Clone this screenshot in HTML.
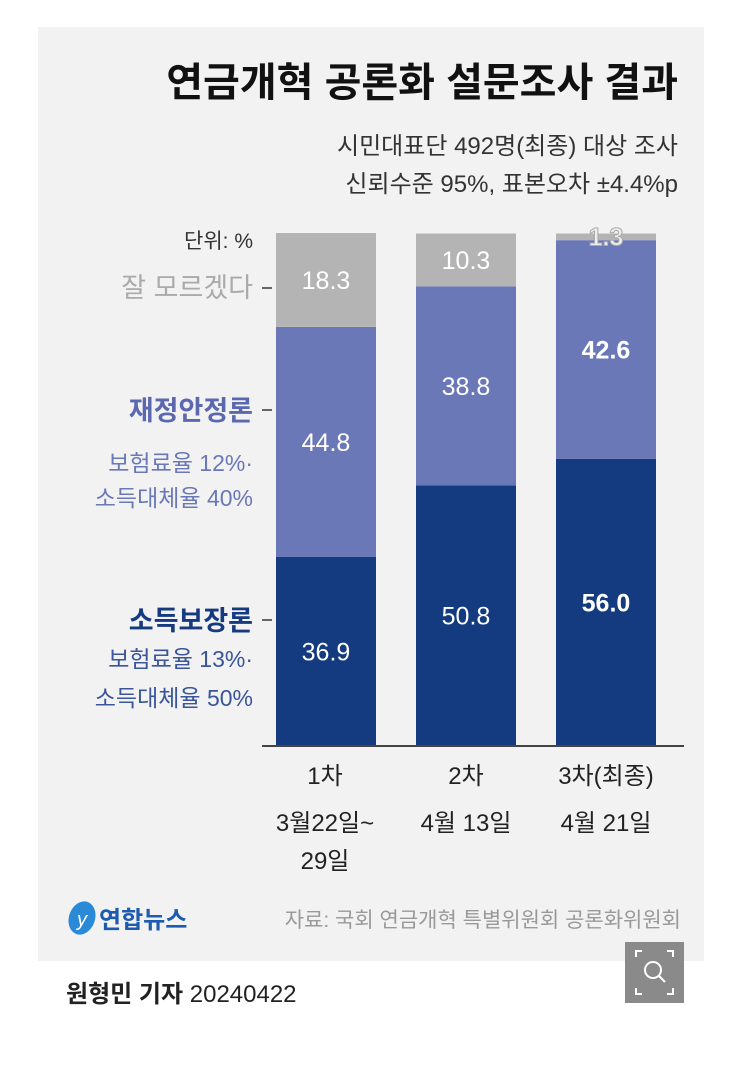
<!DOCTYPE html>
<html><head><meta charset="utf-8"><style>
body{margin:0;width:743px;height:1067px;background:#fff;font-family:"Liberation Sans","Noto Sans CJK KR",sans-serif;overflow:hidden}
</style></head><body>
<svg width="743" height="1067" style="font-family:'Liberation Sans','Noto Sans CJK KR',sans-serif">
<rect x="38" y="27" width="666" height="934" fill="#f2f2f2"/>
<text x="678" y="96" text-anchor="end" font-size="40" font-weight="bold" fill="#111">연금개혁 공론화 설문조사 결과</text>
<text x="678" y="154" text-anchor="end" font-size="24" fill="#333">시민대표단 492명(최종) 대상 조사</text>
<text x="678" y="192" text-anchor="end" font-size="24" fill="#333">신뢰수준 95%, 표본오차 ±4.4%p</text>
<text x="253" y="248" text-anchor="end" font-size="21" fill="#333">단위: %</text>
<g id="bars"></g>
<line x1="262" y1="746" x2="684" y2="746" stroke="#444" stroke-width="2"/>
<g>
<line x1="262" y1="288" x2="272" y2="288" stroke="#666" stroke-width="2"/>
<text x="253" y="297" text-anchor="end" font-size="27" fill="#aaa">잘 모르겠다</text>
<line x1="262" y1="410" x2="272" y2="410" stroke="#666" stroke-width="2"/>
<text x="253" y="420" text-anchor="end" font-size="27" font-weight="bold" fill="#5b68b0">재정안정론</text>
<text x="253" y="471" text-anchor="end" font-size="23" fill="#6b78b8">보험료율 12%·</text>
<text x="253" y="506" text-anchor="end" font-size="23" fill="#6b78b8">소득대체율 40%</text>
<line x1="262" y1="620" x2="272" y2="620" stroke="#666" stroke-width="2"/>
<text x="253" y="630" text-anchor="end" font-size="27" font-weight="bold" fill="#163a80">소득보장론</text>
<text x="253" y="667" text-anchor="end" font-size="23" fill="#3a5599">보험료율 13%·</text>
<text x="253" y="706" text-anchor="end" font-size="23" fill="#3a5599">소득대체율 50%</text>
</g>
<g font-size="24" fill="#222" text-anchor="middle">
<text x="325" y="784">1차</text><text x="325" y="831">3월22일~</text><text x="325" y="869">29일</text>
<text x="466" y="784">2차</text><text x="466" y="831">4월 13일</text>
<text x="606" y="784">3차(최종)</text><text x="606" y="831">4월 21일</text>
</g>
<g>
<ellipse cx="82" cy="918" rx="13" ry="17" fill="#2a8ad8" transform="rotate(20 82 918)"/>
<text x="82" y="926" text-anchor="middle" font-size="20" font-style="italic" fill="#fff">y</text>
<text x="99" y="928" font-size="24" font-weight="bold" fill="#1d5bb0">연합뉴스</text>
</g>
<text x="681" y="927" text-anchor="end" font-size="21" fill="#999">자료: 국회 연금개혁 특별위원회 공론화위원회</text>
<text x="66" y="1002" font-size="24" fill="#222"><tspan font-weight="bold">원형민 기자</tspan>  20240422</text>
<g>
<rect x="625" y="942" width="59" height="61" fill="#8a8a8a"/>
<path d="M636 957v-6h6M673 957v-6h-6M636 988v6h6M673 988v6h-6" stroke="#fff" stroke-width="2" fill="none"/>
<circle cx="653" cy="970" r="8" stroke="#fff" stroke-width="2" fill="none"/>
<line x1="659" y1="976" x2="665" y2="982" stroke="#fff" stroke-width="2"/>
</g>
</svg>
<script>
const categories=["1차","2차","3차(최종)"];
const incomeVals=[36.9,50.8,56.0];
const fiscalVals=[44.8,38.8,42.6];
const unknownVals=[18.3,10.3,1.3];
(function(){
const svgNS="http://www.w3.org/2000/svg";
const g=document.getElementById("bars");
const x0=276,step=140,bw=100,base=746,plotTop=233;
const yScale=v=>v*(base-plotTop)/100;
const series=[[incomeVals,"#143a80","income"],[fiscalVals,"#6b78b8","fiscal"],[unknownVals,"#b4b4b4","unknown"]];
categories.forEach((c,i)=>{
  let y=base;
  series.forEach(([vals,col,nm])=>{
    const h=yScale(vals[i]);y-=h;
    const r=document.createElementNS(svgNS,"rect");
    r.setAttribute("x",x0+i*step);r.setAttribute("y",y);r.setAttribute("width",bw);r.setAttribute("height",h);r.setAttribute("fill",col);
    
    
    g.appendChild(r);
    const t=document.createElementNS(svgNS,"text");
    const bold=i===2;
    t.setAttribute("x",x0+i*step+bw/2);
    t.setAttribute("y",h<15?y+12:y+h/2+9);
    t.setAttribute("text-anchor","middle");t.setAttribute("font-size","25");
    t.setAttribute("fill",bold&&nm==="unknown"?"#eee":"#fff");
    if(bold){t.setAttribute("font-weight","bold");}
    if(h<15){t.setAttribute("stroke","#aaa");t.setAttribute("stroke-width","1");}
    t.textContent=vals[i].toFixed(1);
    
    
    g.appendChild(t);
  });
});
})();
</script>
</body></html>
